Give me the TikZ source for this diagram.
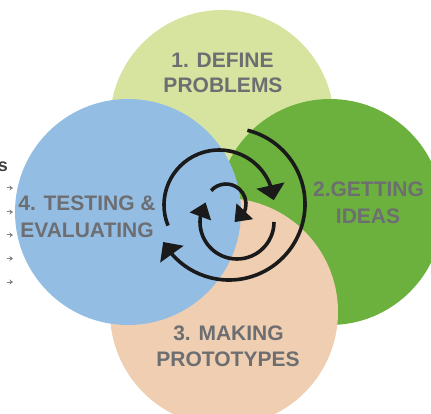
\documentclass[tikz,border=0pt]{standalone}
\usepackage{fontspec}
\setmainfont{Liberation Sans}
\usetikzlibrary{arrows.meta,bending}
\definecolor{cLight}{RGB}{214,228,160}
\definecolor{cDark}{RGB}{108,176,62}
\definecolor{cPeach}{RGB}{240,206,178}
\definecolor{cBlue}{RGB}{148,189,228}
\definecolor{cText}{RGB}{109,110,113}
\definecolor{cLine}{RGB}{26,26,26}
\begin{document}
\begin{tikzpicture}[x=1pt,y=-1pt,
  lbl/.style={font=\bfseries\fontsize{21}{25}\selectfont, text=cText, inner sep=0pt, anchor=base},
  cyc/.style={line width=3.6pt, draw=cLine},
  outerarrow/.style={-{Triangle[width=28pt,length=15pt,flex]}},
  innerarrow/.style={-{Triangle[width=22pt,length=15pt,flex]}},
  bullet/.style={draw=black!50, line width=1pt, -{Stealth[length=3.5pt,width=5pt]}}
]
\useasboundingbox (0,0) rectangle (431,414);
\clip (0,0) rectangle (431,414);
% circles
\fill[cLight] (222,122) circle[radius=112];
\fill[cDark]  (330,212) circle[radius=113];
\fill[cPeach] (224,312) circle[radius=114];
\fill[cBlue]  (128,212) circle[radius=113];
% labels
\node[lbl] (t1a) at (222.5,68) {1. DEFINE};
\node[lbl] (t1b) at (223,93) {PROBLEMS};
\node[lbl] (t2a) at (368.5,197) {2.GETTING};
\node[lbl] (t2b) at (368,223) {IDEAS};
\node[lbl] (t3a) at (228.5,340) {3. MAKING};
\node[lbl] (t3b) at (228,366) {PROTOTYPES};
\node[lbl] (t4a) at (87,211) {4. TESTING \&};
\node[lbl] (t4b) at (87,237) {EVALUATING};
% left fragment
\node[font=\bfseries\fontsize{18}{20}\selectfont, text=black!75, anchor=base east, inner sep=0pt] (frag) at (8,172) {s};
\draw[bullet] (7,188) -- (13,188);
\draw[bullet] (7,212) -- (13,212);
\draw[bullet] (7,235) -- (13,235);
\draw[bullet] (7,258.5) -- (13,258.5);
\draw[bullet] (7,282) -- (13,282);
% cycle arrows
\coordinate (oA) at (229,204);
\coordinate (oB) at (219,205);
\coordinate (oC) at (226,204);
\coordinate (oD) at (237,222);
\draw[cyc, outerarrow] ([shift={(-76:76)}]oA) arc[start angle=-76, end angle=150, radius=76];
\draw[cyc, outerarrow] ([shift={(158:55)}]oB) arc[start angle=158, end angle=355, radius=55];
\draw[cyc, innerarrow] ([shift={(222:20)}]oC) arc[start angle=222, end angle=425, radius=20];
\draw[cyc, innerarrow] ([shift={(0:37)}]oD) arc[start angle=0, end angle=212, radius=37];
\end{tikzpicture}
\end{document}
